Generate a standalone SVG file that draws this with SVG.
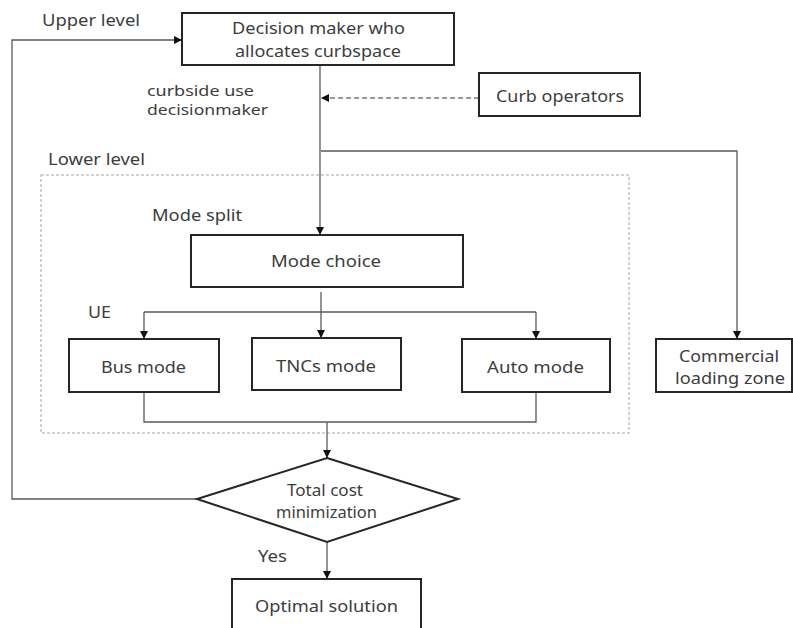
<svg xmlns="http://www.w3.org/2000/svg" width="793" height="628" viewBox="0 0 793 628">
<defs>
<style>
text{font-family:"Noto Sans","Open Sans","Liberation Sans",sans-serif;font-size:15.5px;fill:#3d3d3d}
.sm{font-size:13.5px}
.box{fill:#fff;stroke:#262626;stroke-width:2}
.ln{fill:none;stroke:#5a5a5a;stroke-width:1.3}
.dash{fill:none;stroke:#777;stroke-width:1.3;stroke-dasharray:5 3}
.grp{fill:none;stroke:#c4c4c4;stroke-width:1.5;stroke-dasharray:3 2}
</style>
<marker id="ah" viewBox="0 0 10 10" refX="10" refY="5" markerWidth="8" markerHeight="8" markerUnits="userSpaceOnUse" orient="auto">
<path d="M0,0 L10,5 L0,10 z" fill="#111"/>
</marker>
</defs>
<rect width="793" height="628" fill="#fff"/>

<g id="lower-level">
<rect class="grp" x="41" y="175" width="588" height="258"/>
<text x="48" y="165" textLength="97" lengthAdjust="spacingAndGlyphs">Lower level</text>
</g>

<g id="connectors">
<path class="ln" d="M197,499 H12 V40 H182" marker-end="url(#ah)"/>
<path class="ln" d="M320,65 V235" marker-end="url(#ah)"/>
<path class="dash" d="M479,98 H321" marker-end="url(#ah)"/>
<path class="ln" d="M321,151 H737 V339" marker-end="url(#ah)"/>
<path class="ln" d="M321,292 V338" marker-end="url(#ah)"/>
<path class="ln" d="M144,312 H536"/>
<path class="ln" d="M144,312 V339" marker-end="url(#ah)"/>
<path class="ln" d="M536,312 V339" marker-end="url(#ah)"/>
<path class="ln" d="M144,392 V422 H536 V392"/>
<path class="ln" d="M327,422 V458" marker-end="url(#ah)"/>
<path class="ln" d="M327,542 V579" marker-end="url(#ah)"/>
</g>

<g id="labels">
<text x="42" y="26" textLength="98" lengthAdjust="spacingAndGlyphs">Upper level</text>
<text class="sm" x="147" y="96" textLength="107" lengthAdjust="spacingAndGlyphs">curbside use</text>
<text class="sm" x="147" y="115" textLength="121" lengthAdjust="spacingAndGlyphs">decisionmaker</text>
<text x="152" y="221" textLength="90" lengthAdjust="spacingAndGlyphs">Mode split</text>
<text x="88" y="318" textLength="23" lengthAdjust="spacingAndGlyphs">UE</text>
<text x="258" y="562" textLength="29" lengthAdjust="spacingAndGlyphs">Yes</text>
</g>

<g id="decision-maker">
<rect class="box" x="182" y="13" width="272" height="52"/>
<text x="232" y="34" textLength="173" lengthAdjust="spacingAndGlyphs">Decision maker who</text>
<text x="235" y="57" textLength="166" lengthAdjust="spacingAndGlyphs">allocates curbspace</text>
</g>

<g id="curb-operators">
<rect class="box" x="479" y="73" width="161" height="43"/>
<text x="496" y="102" textLength="128" lengthAdjust="spacingAndGlyphs">Curb operators</text>
</g>

<g id="mode-choice">
<rect class="box" x="191" y="235" width="272" height="52"/>
<text x="271" y="267" textLength="110" lengthAdjust="spacingAndGlyphs">Mode choice</text>
</g>

<g id="bus-mode">
<rect class="box" x="69" y="339" width="150" height="53"/>
<text x="101" y="373" textLength="85" lengthAdjust="spacingAndGlyphs">Bus mode</text>
</g>

<g id="tncs-mode">
<rect class="box" x="252" y="338" width="149" height="52"/>
<text x="276" y="372" textLength="100" lengthAdjust="spacingAndGlyphs">TNCs mode</text>
</g>

<g id="auto-mode">
<rect class="box" x="462" y="339" width="148" height="53"/>
<text x="487" y="373" textLength="97" lengthAdjust="spacingAndGlyphs">Auto mode</text>
</g>

<g id="commercial-loading-zone">
<rect class="box" x="656" y="339" width="136" height="53"/>
<text x="679" y="362" textLength="100" lengthAdjust="spacingAndGlyphs">Commercial</text>
<text x="675" y="384" textLength="110" lengthAdjust="spacingAndGlyphs">loading zone</text>
</g>

<g id="total-cost">
<polygon class="box" points="327,458 458,499 327,542 197,499"/>
<text x="287" y="496" textLength="76" lengthAdjust="spacingAndGlyphs">Total cost</text>
<text x="276" y="518" textLength="101" lengthAdjust="spacingAndGlyphs">minimization</text>
</g>

<g id="optimal-solution">
<rect class="box" x="232" y="579" width="189" height="60"/>
<text x="255" y="612" textLength="143" lengthAdjust="spacingAndGlyphs">Optimal solution</text>
</g>
</svg>
